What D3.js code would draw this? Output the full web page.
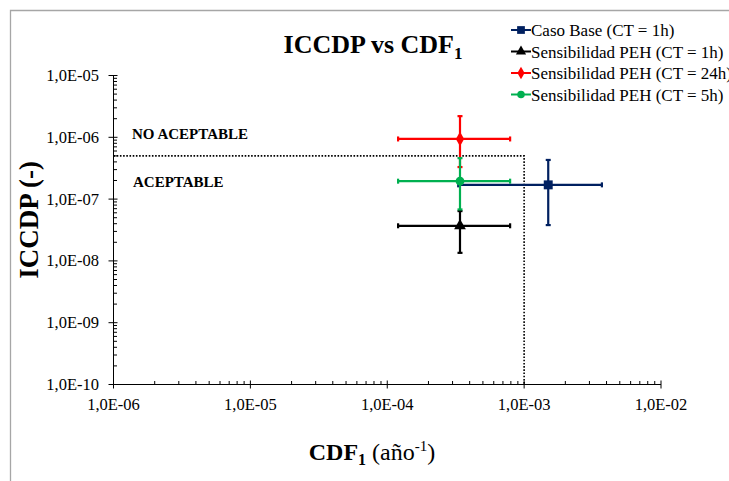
<!DOCTYPE html>
<html>
<head>
<meta charset="utf-8">
<script src="https://cdn.jsdelivr.net/npm/d3@7"></script>
<style>
  body { margin: 0; background: #fff; }
  svg { display: block; }
  text { font-family: "Liberation Serif", "Times New Roman", serif; }
</style>
</head>
<body>
<div id="chart"></div>
<script>
// data
const series = ["Caso Base (CT = 1h)", "Sensibilidad PEH (CT = 1h)", "Sensibilidad PEH (CT = 24h)", "Sensibilidad PEH (CT = 5h)"];
const colors = ["#002060", "#000000", "#ff0000", "#00b050"];
const symbols = [d3.symbolSquare, d3.symbolTriangle, d3.symbolDiamond, d3.symbolCircle];
const cdf = [1.5e-3, 3.4e-4, 3.4e-4, 3.4e-4];
const cdfLow = [3.3e-4, 1.2e-4, 1.2e-4, 1.2e-4];
const cdfHigh = [3.7e-3, 7.9e-4, 7.9e-4, 7.9e-4];
const iccdp = [1.7e-7, 3.7e-8, 9.4e-7, 1.95e-7];
const iccdpLow = [3.8e-8, 1.35e-8, 3.3e-7, 6.8e-8];
const iccdpHigh = [4.3e-7, 6.4e-8, 2.2e-6, 4.6e-7];
const xTicks = [1e-6, 1e-5, 1e-4, 1e-3, 1e-2];
const yTicks = [1e-10, 1e-9, 1e-8, 1e-7, 1e-6, 1e-5];
const limitCdf = 1e-3, limitIccdp = 5e-7;

const W = 729, H = 481;
const margin = { left: 113.5, right: 68, top: 75.5, bottom: 96.5 };

const svg = d3.select("#chart").append("svg")
  .attr("width", W).attr("height", H);

// outer frame (right/bottom edges fall outside the picture)
svg.append("path")
  .attr("d", `M10.5,${H + 5}V10.5H${W + 5}`)
  .attr("fill", "none").attr("stroke", "#a6a6a6").attr("stroke-width", 1.3);

const x = d3.scaleLog().domain([1e-6, 1e-2]).range([margin.left, W - margin.right]);
const y = d3.scaleLog().domain([1e-10, 1e-5]).range([H - margin.bottom, margin.top]);

const fmt = d => {
  const e = Math.round(Math.log10(d));
  return "1,0E" + (e < 0 ? "-" : "+") + String(Math.abs(e)).padStart(2, "0");
};

// minor ticks 2..9 for each decade
function minors(domain) {
  const out = [];
  for (let e = Math.log10(domain[0]); e < Math.log10(domain[1]); e++)
    for (let k = 2; k < 10; k++) out.push(k * Math.pow(10, e));
  return out;
}

const g = svg.append("g");
const x0 = x.range()[0], yb = y.range()[0];

// x axis
g.append("line").attr("x1", x0).attr("x2", x.range()[1]).attr("y1", yb).attr("y2", yb)
  .attr("stroke", "#000").attr("stroke-width", 1);
g.selectAll(".xmin").data(minors(x.domain())).join("line")
  .attr("x1", d => x(d)).attr("x2", d => x(d)).attr("y1", yb).attr("y2", yb - 3.5)
  .attr("stroke", "#000");
g.selectAll(".xmaj").data(xTicks).join("line")
  .attr("x1", d => x(d)).attr("x2", d => x(d)).attr("y1", yb - 4).attr("y2", yb + 4)
  .attr("stroke", "#000");
g.selectAll(".xlab").data(xTicks).join("text")
  .attr("x", d => x(d)).attr("y", yb + 25)
  .attr("text-anchor", "middle").attr("font-size", 16.5)
  .text(fmt);

// y axis
g.append("line").attr("x1", x0).attr("x2", x0).attr("y1", yb).attr("y2", y.range()[1])
  .attr("stroke", "#000");
g.selectAll(".ymin").data(minors(y.domain())).join("line")
  .attr("x1", x0).attr("x2", x0 + 3.5).attr("y1", d => y(d)).attr("y2", d => y(d))
  .attr("stroke", "#000");
g.selectAll(".ymaj").data(yTicks).join("line")
  .attr("x1", x0 - 5).attr("x2", x0 + 4).attr("y1", d => y(d)).attr("y2", d => y(d))
  .attr("stroke", "#000");
g.selectAll(".ylab").data(yTicks).join("text")
  .attr("x", 99).attr("y", d => y(d) + 5.5)
  .attr("text-anchor", "end").attr("font-size", 16.5)
  .text(fmt);

// acceptance limit (dotted)
g.append("path")
  .attr("d", `M${x0},${y(limitIccdp)}H${x(limitCdf)}V${yb}`)
  .attr("fill", "none").attr("stroke", "#000").attr("stroke-width", 1.6)
  .attr("stroke-dasharray", "1.6,1.6");

g.append("text").attr("x", 132).attr("y", 139).attr("font-size", 15)
  .attr("font-weight", "bold").text("NO ACEPTABLE");
g.append("text").attr("x", 133).attr("y", 187).attr("font-size", 15)
  .attr("font-weight", "bold").text("ACEPTABLE");

// error bars + markers
const cap = 2.5;
series.forEach((name, i) => {
  const s = g.append("g").attr("stroke", colors[i]).attr("stroke-width", 2.2);
  const cx = x(cdf[i]), cy = y(iccdp[i]);
  s.append("line").attr("x1", x(cdfLow[i])).attr("x2", x(cdfHigh[i])).attr("y1", cy).attr("y2", cy);
  s.append("line").attr("x1", cx).attr("x2", cx).attr("y1", y(iccdpLow[i])).attr("y2", y(iccdpHigh[i]));
  [cdfLow[i], cdfHigh[i]].forEach(v =>
    s.append("line").attr("x1", x(v)).attr("x2", x(v)).attr("y1", cy - cap).attr("y2", cy + cap));
  [iccdpLow[i], iccdpHigh[i]].forEach(v =>
    s.append("line").attr("x1", cx - cap).attr("x2", cx + cap).attr("y1", y(v)).attr("y2", y(v)));
  g.append("path")
    .attr("d", d3.symbol().type(symbols[i]).size(i === 0 ? 80 : 60)())
    .attr("transform", `translate(${cx},${cy})`)
    .attr("fill", colors[i]);
});

// legend
const leg = svg.append("g");
series.forEach((name, i) => {
  const ly = 30 + i * 21.5;
  leg.append("line").attr("x1", 511).attr("x2", 531).attr("y1", ly).attr("y2", ly)
    .attr("stroke", colors[i]).attr("stroke-width", 2);
  leg.append("path")
    .attr("d", d3.symbol().type(symbols[i]).size(i === 0 ? 60 : 45)())
    .attr("transform", `translate(521,${ly})`)
    .attr("fill", colors[i]);
  leg.append("text").attr("x", 531).attr("y", ly + 6).attr("font-size", 17).text(name);
});

// titles
const title = svg.append("text").attr("x", 373).attr("y", 53)
  .attr("text-anchor", "middle").attr("font-size", 26).attr("font-weight", "bold");
title.append("tspan").text("ICCDP vs CDF");
title.append("tspan").attr("font-size", 17).attr("dy", 6).text("1");

const xt = svg.append("text").attr("x", 372).attr("y", 460)
  .attr("text-anchor", "middle").attr("font-size", 24);
xt.append("tspan").attr("font-weight", "bold").text("CDF");
xt.append("tspan").attr("font-weight", "bold").attr("font-size", 16).attr("dy", 5).text("1");
xt.append("tspan").attr("dy", -5).text(" (año");
xt.append("tspan").attr("font-size", 15).attr("dy", -9).text("-1");
xt.append("tspan").attr("dy", 9).text(")");

svg.append("text")
  .attr("transform", "translate(38,220) rotate(-90)")
  .attr("text-anchor", "middle").attr("font-size", 27).attr("font-weight", "bold")
  .text("ICCDP (-)");
</script>
</body>
</html>
